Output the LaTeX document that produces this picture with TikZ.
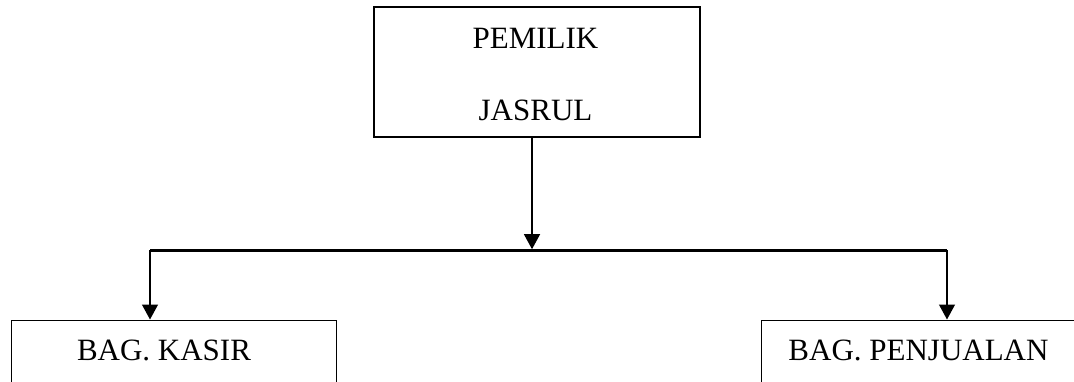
\documentclass[tikz,border=0pt]{standalone}
\usepackage{fontspec}
\setmainfont{Liberation Serif}
\usetikzlibrary{arrows.meta}
\begin{document}
\begin{tikzpicture}[x=1pt,y=-1pt,
  box/.style={draw=black, line width=1.1pt, rectangle, inner sep=0pt},
  lbl/.style={font=\fontsize{31}{36}\selectfont, inner sep=0pt, anchor=base},
  arr/.style={draw=black, line width=1.3pt, -{Triangle[width=16pt,length=15pt]}},
  bar/.style={draw=black, line width=2.6pt}]
\useasboundingbox (0,0) rectangle (1074,382);
\clip (0,0) rectangle (1074,382);
% boxes
\node[box, minimum width=326pt, minimum height=130pt] (owner) at (537,72) {};
\node[lbl] (ownerA) at (535.5,48.3) {PEMILIK};
\node[lbl] (ownerB) at (535.5,121) {JASRUL};
\node[box, minimum width=325pt, minimum height=120pt, anchor=north west] (kasir) at (11,319.5) {};
\node[lbl] (kasirT) at (164,360) {BAG. KASIR};
\node[box, minimum width=400pt, minimum height=120pt, anchor=north west] (penj) at (761,319.5) {};
\node[lbl] (penjT) at (918.5,360) {BAG. PENJUALAN};
% connectors
\coordinate (j) at (532,250.5);
\coordinate (jl) at (150,250.5);
\coordinate (jr) at (947,250.5);
\draw[bar] (jl) -- (jr);
\draw[arr, shorten >=1.3pt] (j |- owner.south) -- (j);
\draw[arr] (jl) -- (jl |- kasir.north);
\draw[arr] (jr) -- (jr |- penj.north);
\end{tikzpicture}
\end{document}
